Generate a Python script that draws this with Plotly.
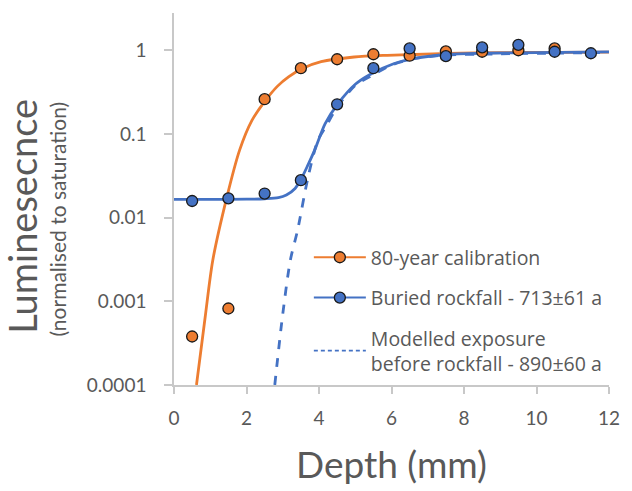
import plotly.graph_objects as go

# ---- data ----
depth_pts = [0.5, 1.5, 2.5, 3.5, 4.5, 5.5, 6.5, 7.5, 8.5, 9.5, 10.5]
calib_pts = [0.00038, 0.00082, 0.26, 0.61, 0.78, 0.895, 0.86, 0.97, 0.96, 1.0, 1.05]

buried_x = [0.5, 1.5, 2.5, 3.5, 4.5, 5.5, 6.5, 7.5, 8.5, 9.5, 10.5, 11.5]
buried_pts = [0.0158, 0.0170, 0.0194, 0.0280, 0.226, 0.61, 1.05, 0.85, 1.08, 1.16, 0.96, 0.92]

calib_curve_x = [0.62, 0.86, 1.07, 1.45, 1.81, 2.15, 2.52, 2.85, 3.16, 3.54, 4.06, 4.97, 5.88, 6.65, 7.54, 9.0, 10.5, 12.0]
calib_curve_y = [0.0001, 0.00065, 0.0031, 0.017, 0.064, 0.145, 0.25, 0.37, 0.48, 0.605, 0.73, 0.83, 0.87, 0.89, 0.915, 0.935, 0.945, 0.95]

buried_curve_x = [0.0, 1.0, 2.0, 2.5, 2.88, 3.1, 3.34, 3.5, 3.7, 3.88, 4.17, 4.52, 5.01, 5.42, 6.06, 6.65, 7.54, 8.5, 10.0, 12.0]
buried_curve_y = [0.0165, 0.0165, 0.0166, 0.0168, 0.0173, 0.0186, 0.0223, 0.0285, 0.043, 0.064, 0.133, 0.229, 0.395, 0.518, 0.69, 0.80, 0.89, 0.92, 0.935, 0.955]

model_curve_x = [2.78, 2.99, 3.21, 3.41, 3.70, 3.97, 4.2, 4.52, 5.0, 5.5, 6.0, 6.6, 7.5, 9.0, 12.0]
model_curve_y = [0.0001, 0.00065, 0.0031, 0.0071, 0.0307, 0.084, 0.125, 0.215, 0.38, 0.51, 0.665, 0.79, 0.875, 0.905, 0.94]

x_ticks = [0, 2, 4, 6, 8, 10, 12]
y_ticks = [0.0001, 0.001, 0.01, 0.1, 1]
y_tick_text = ["0.0001", "0.001", "0.01", "0.1", "1"]

names = ["80-year calibration", "Buried rockfall - 713±61 a", "Modelled exposure<br>before rockfall - 890±60 a"]

ORANGE = "#ED7D31"
BLUE = "#4472C4"
GREY = "#595959"
FONT = "Lato"
LEGEND_FONT = "Open Sans"

fig = go.Figure()

# curves
fig.add_trace(go.Scatter(x=calib_curve_x, y=calib_curve_y, mode="lines",
                         line=dict(color=ORANGE, width=2.8, shape="spline", smoothing=0.8),
                         showlegend=False, hoverinfo="skip"))
fig.add_trace(go.Scatter(x=model_curve_x, y=model_curve_y, mode="lines",
                         line=dict(color=BLUE, width=2.8, dash="dash", shape="spline", smoothing=0.8),
                         showlegend=False, hoverinfo="skip"))
fig.add_trace(go.Scatter(x=buried_curve_x, y=buried_curve_y, mode="lines",
                         line=dict(color=BLUE, width=2.8, shape="spline", smoothing=0.8),
                         showlegend=False, hoverinfo="skip"))
# points
mk_line = dict(color="#1a1a1a", width=1.3)
fig.add_trace(go.Scatter(x=depth_pts, y=calib_pts, mode="markers",
                         marker=dict(color=ORANGE, size=11, line=mk_line), showlegend=False))
fig.add_trace(go.Scatter(x=buried_x, y=buried_pts, mode="markers",
                         marker=dict(color=BLUE, size=11, line=mk_line), showlegend=False))

# legend entries
fig.add_trace(go.Scatter(x=[None], y=[None], mode="lines+markers", name=names[0], legendgroup="a",
                         line=dict(color=ORANGE, width=2), marker=dict(color=ORANGE, size=11, line=mk_line)))
fig.add_trace(go.Scatter(x=[None], y=[None], mode="lines+markers", name=names[1], legendgroup="b",
                         line=dict(color=BLUE, width=2), marker=dict(color=BLUE, size=11, line=mk_line)))
fig.add_trace(go.Scatter(x=[None], y=[None], mode="lines", name=names[2], legendgroup="c",
                         line=dict(color=BLUE, width=1.8, dash="4px,3px")))

fig.update_layout(
    width=632, height=491,
    margin=dict(l=174, r=16, t=13, b=106),
    paper_bgcolor="white", plot_bgcolor="white",
    font=dict(family=FONT, color=GREY),
    legend=dict(x=0.31, y=0.395, xanchor="left", yanchor="top",
                font=dict(size=19.5, color=GREY, family=LEGEND_FONT),
                traceorder="grouped", tracegroupgap=12, itemwidth=52,
                bgcolor="rgba(0,0,0,0)"),
    xaxis=dict(range=[0, 12], tickvals=x_ticks, showgrid=False, zeroline=False,
               showline=True, linecolor="#c8c8c8", linewidth=1.5,
               ticks="outside", ticklen=7, tickcolor="#c8c8c8", tickwidth=1.5,
               tickfont=dict(size=19, color=GREY), ticklabelstandoff=8),
    yaxis=dict(type="log", range=[-4, 0.445], tickvals=y_ticks, ticktext=y_tick_text,
               showgrid=False, zeroline=False,
               showline=True, linecolor="#c8c8c8", linewidth=1.5,
               ticks="outside", ticklen=8, tickcolor="#c8c8c8", tickwidth=1.5,
               tickfont=dict(size=19, color=GREY), ticklabelstandoff=14),
    annotations=[
        dict(text="Luminesecnce", xref="paper", yref="paper", x=-0.35, y=0.454,
             xanchor="center", yanchor="middle", textangle=-90, showarrow=False,
             font=dict(size=38, color=GREY, family=FONT)),
        dict(text="(normalised to saturation)", xref="paper", yref="paper", x=-0.267, y=0.447,
             xanchor="center", yanchor="middle", textangle=-90, showarrow=False,
             font=dict(size=21, color=GREY, family=FONT)),
        dict(text="Depth (mm)", xref="paper", yref="paper", x=0.5, y=-0.212,
             xanchor="center", yanchor="middle", showarrow=False,
             font=dict(size=37, color=GREY, family=FONT)),
    ],
)

fig.write_html("out.html")
